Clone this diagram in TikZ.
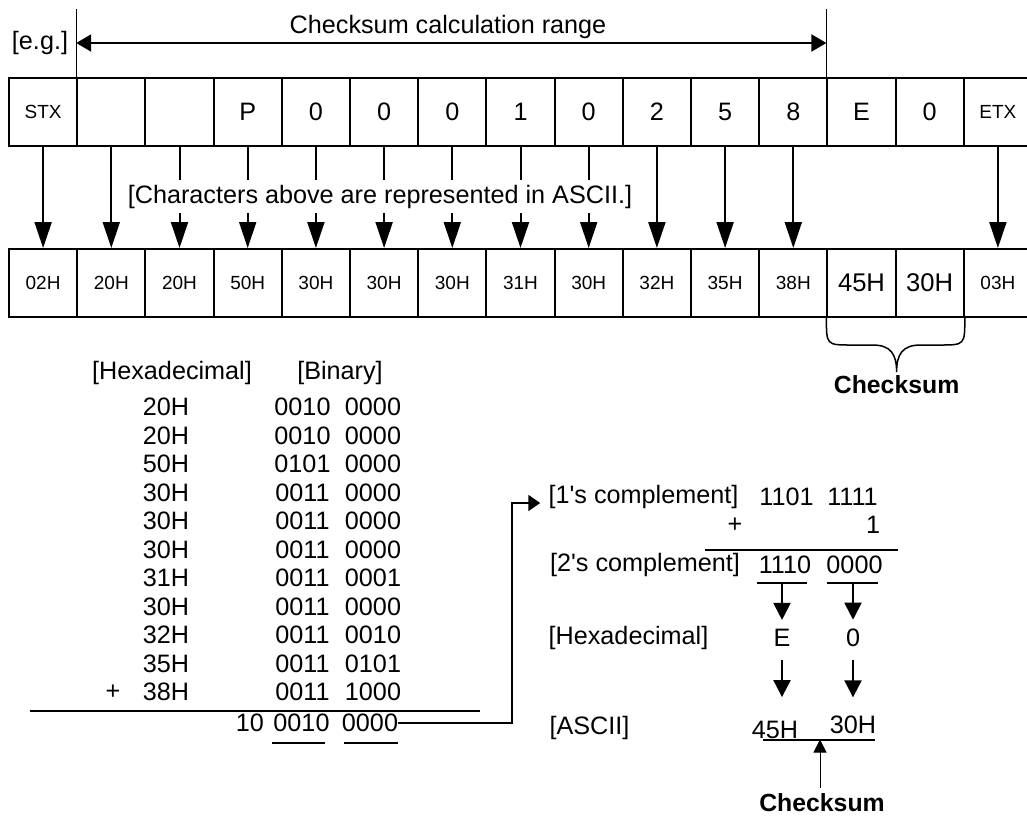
\documentclass[tikz,border=0pt]{standalone}
\usepackage{fontspec}
\setmainfont{Liberation Sans}[Ligatures=TeXOff]
\usetikzlibrary{arrows.meta,calc}
\newcommand\smf{\fontsize{9.5}{11}\selectfont}
\newcommand\bgf{\fontsize{12.8}{14}\selectfont}
\begin{document}
\begin{tikzpicture}[x=0.5pt,y=-0.5pt,
  cell/.style={draw,line width=1pt,minimum width=34.1pt,minimum height=34pt,inner sep=0pt,anchor=north west,font=\fontsize{12.6}{14}\selectfont},
  txt/.style={inner sep=0pt,font=\fontsize{12.6}{14}\selectfont},
  bold/.style={inner sep=0pt,font=\fontsize{12.4}{14}\selectfont\bfseries},
  bigarrow/.style={line width=1pt,-{Triangle[length=13pt,width=8.5pt]}},
  midarrow/.style={line width=1pt,-{Triangle[length=8.5pt,width=8.5pt]}},
  rangearrow/.style={line width=1pt,{Triangle[length=7.5pt,width=8.5pt]}-{Triangle[length=7.5pt,width=8.5pt]}},
  thinline/.style={line width=0.5pt},
  rule/.style={line width=1pt}
]
\useasboundingbox (0,0) rectangle (1027,815);

% top row
\foreach \t [count=\i from 0] in {\smf STX, , , P, 0, 0, 0, 1, 0, 2, 5, 8, E, 0, \smf ETX}
  \node[cell] (t\i) at ({8+68.2*\i},77) {\t};
% bottom row
\foreach \t [count=\i from 0] in {\smf 02H, \smf 20H, \smf 20H, \smf 50H, \smf 30H, \smf 30H, \smf 30H, \smf 31H, \smf 30H, \smf 32H, \smf 35H, \smf 38H, \bgf 45H, \bgf 30H, \smf 03H}
  \node[cell] (b\i) at ({8+68.2*\i},248) {\t};

% arrows top -> bottom
\foreach \i in {0,...,11,14}
  \draw[bigarrow] (t\i.south) -- (b\i.north);
\node[txt,fill=white,minimum height=16.5pt,inner xsep=1pt] (asciinote) at (380,196.5) {[Characters above are represented in ASCII.]};

% range
\coordinate (ytop) at (0,9);
\coordinate (yrng) at (0,43);
\draw[thinline] (t1.north west) -- (t1.north west |- ytop);
\draw[thinline] (t12.north west) -- (t12.north west |- ytop);
\draw[rangearrow] (t1.north west |- yrng) -- (t12.north west |- yrng);
\node[txt] (rangelbl) at (448,27) {Checksum calculation range};
\node[txt] (eg) at (40,43) {[e.g.]};

% brace
\coordinate (bl) at (b12.south west);
\coordinate (bm) at (b12.south east);
\coordinate (br) at (b13.south east);
\draw[line width=0.75pt] (bl) .. controls ($(bl)+(0,27)$) and ($(bl)+(0,27)$) .. ($(bl)+(25,27)$)
  -- ($(bm)+(-24,27)$) .. controls ($(bm)+(-6,27)$) and ($(bm)+(0,36)$) .. ($(bm)+(0,54)$)
  .. controls ($(bm)+(0,36)$) and ($(bm)+(6,27)$) .. ($(bm)+(24,27)$)
  -- ($(br)+(-25,27)$) .. controls ($(br)+(0,27)$) and ($(br)+(0,27)$) .. (br);
\node[bold] (cs1) at ($(bm)+(0,67)$) {Checksum};

% lower left: addition
\node[txt] (hexh) at (172,373) {[Hexadecimal]};
\node[txt] (binh) at (340,373) {[Binary]};
\foreach \h/\a/\b [count=\k from 0] in {20H/0010/0000, 20H/0010/0000, 50H/0101/0000, 30H/0011/0000, 30H/0011/0000, 30H/0011/0000, 31H/0011/0001, 30H/0011/0000, 32H/0011/0010, 35H/0011/0101, 38H/0011/1000} {
  \node[txt] (h\k) at (166,{407+28.5*\k}) {\h};
  \node[txt] (a\k) at (302.5,{407+28.5*\k}) {\a};
  \node[txt] (c\k) at (373,{407+28.5*\k}) {\b};
}
\node[txt] (plusa) at (113,692) {+};
\draw[rule] (30,711) -- (480,711);
\node[txt] (r0) at (250,723) {10};
\node[txt] (r1) at (301.5,723) {0010};
\node[txt] (r2) at (370,723) {0000};
\draw[rule] ($(r1.south west)+(-1,11)$) -- ($(r1.south east)+(-5,11)$);
\draw[rule] ($(r2.south west)+(2,11)$) -- ($(r2.south east)+(0,11)$);

% right section
\node[txt] (ones) at (643.5,497) {[1's complement]};
\node[txt] (o1) at (786.5,497) {1101};
\node[txt] (o2) at (852.5,497) {1111};
\node[txt] (plusb) at (735,525) {+};
\node[txt] (one) at (873,525) {1};
\draw[rule] (705,550) -- (898,550);
\node[txt] (twos) at (645,565) {[2's complement]};
\node[txt] (w1) at (785,565) {1110};
\node[txt] (w2) at (854.5,565) {0000};
\draw[rule] (757,583) -- (807,583);
\draw[rule] (827,583) -- (878,583);
\node[txt] (hexr) at (628.5,638) {[Hexadecimal]};
\node[txt] (e1) at (782,638) {E};
\node[txt] (e2) at (853,638) {0};
\draw[midarrow] ($(e1.north)+(0,-46)$) -- ($(e1.north)+(0,-9)$);
\draw[midarrow] ($(e2.north)+(0,-46)$) -- ($(e2.north)+(0,-9)$);
\node[txt] (asc) at (589.5,728) {[ASCII]};
\node[txt] (x1) at (775,730) {45H};
\node[txt] (x2) at (853,725) {30H};
\draw[midarrow] ($(e1.south)+(0,13)$) -- ($(e1.south)+(0,50)$);
\draw[midarrow] ($(e2.south)+(0,13)$) -- ($(e2.south)+(0,50)$);
\draw[rule] (763,740) -- (875,740);
\node[bold] (cs2) at (822,803) {Checksum};
\draw[thinline,-{Triangle[length=6.5pt,width=6.5pt]}] ($(cs2.north)+(-2,-6)$) -- ($(cs2.north)+(-2,-54)$);

% connector from sum to 1's complement
\coordinate (kink) at (512,503);
\coordinate (onesin) at ($(ones.west)+(-8,6)$);
\draw[rule,-{Triangle[length=6pt,width=8pt]}] (r2.east) -| (kink) -- (onesin);
\end{tikzpicture}
\end{document}
